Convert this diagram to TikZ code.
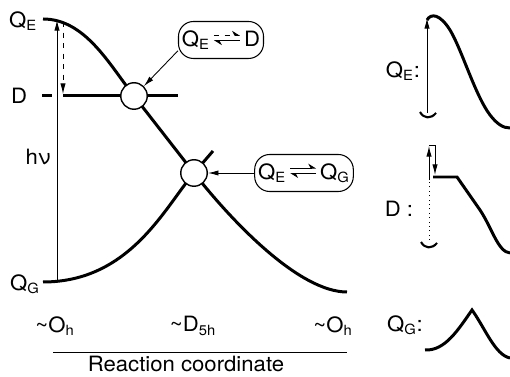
\documentclass[tikz,border=0pt]{standalone}
\usepackage{fontspec}
\setmainfont{TeX Gyre Heros}[FakeStretch=1.05]
\usepackage{tikz}
\usetikzlibrary{arrows.meta, calc}

\newcommand{\subs}[1]{\textsubscript{#1}}
\newcommand{\harp}[1]{\tikz[x=1cm, y=1cm, baseline=-0.75ex]{%
  \draw[line width=0.6pt, #1, -{Stealth[harpoon, length=4pt, width=5pt]}] (0,0.055) -- (0.52,0.055);
  \draw[line width=0.6pt, solid, -{Stealth[harpoon, length=4pt, width=5pt]}] (0.52,-0.055) -- (0,-0.055);}}

\begin{document}
\begin{tikzpicture}[x=0.02cm, y=-0.02cm,
    thickcurve/.style={line width=1.7pt},
    thinline/.style={line width=0.5pt},
    cupline/.style={line width=1.2pt},
    arrowhead/.style={-{Latex[length=6pt, width=3pt]}},
    xpoint/.style={circle, draw, line width=0.8pt, fill=white, minimum size=0.53cm, inner sep=0pt},
    statebox/.style={draw, line width=0.6pt, rounded corners=0.3cm, minimum height=0.74cm, inner sep=2pt,
                     font=\fontsize{12}{14}\selectfont},
    lbl/.style={font=\fontsize{12}{14}\selectfont, inner sep=0pt}]
      \useasboundingbox (0,0) rectangle (510,377);
      % ── potential curves ─────────────────────────────────────────────────────
      \draw[thickcurve] (43,19) .. controls (85,19) and (109,64) .. (134,96)
        -- (194,173) .. controls (234,224) and (300,292) .. (347,292);
      \draw[thickcurve] (43,282) .. controls (130,282) and (165,207) .. (194,173) -- (213,151);
      \draw[thickcurve] (63,96) -- (178,96);
      \draw[thickcurve] (42,96) -- (52,96);
      % ── excitation and relaxation ────────────────────────────────────────────
      \draw[thinline, arrowhead] (57,282) -- (57,20);
      \draw[thinline, dashed, arrowhead] (63,22) -- (63,94);
      % ── crossing points ──────────────────────────────────────────────────────
      \node[xpoint] (cD) at (134,96) {};
      \node[xpoint] (cG) at (194,173) {};
      % ── equilibrium tags ─────────────────────────────────────────────────────
      \node[statebox, minimum width=1.64cm] (tagD) at (221,40) {Q\subs{E}\,\harp{dashed}\,D};
      \node[statebox, minimum width=1.94cm] (tagG) at (304,173) {Q\subs{E}\,\harp{solid}\,Q\subs{G}};
      \draw[thinline, arrowhead] (tagD.194) -- (cD.45);
      \draw[thinline, arrowhead] (tagG.west) -- (cG.east);
      % ── state labels ─────────────────────────────────────────────────────────
      \node[lbl] (lQE) at (23,21) {Q\subs{E}};
      \node[lbl] (lD) at (19,96) {D};
      \node[lbl] (lhv) at (38,157) {hν};
      \node[lbl] (lQG) at (25,284) {Q\subs{G}};
      % ── reaction coordinate ──────────────────────────────────────────────────
      \node[lbl] (xOa) at (55,326) {\textasciitilde O\subs{h}};
      \node[lbl] (xD) at (193,326) {\textasciitilde D\subs{5h}};
      \node[lbl] (xOb) at (333,326) {\textasciitilde O\subs{h}};
      \draw[thinline] (53,352) -- (347,352);
      \node[lbl, anchor=base] (axis) at (186,372) {Reaction coordinate};
      % ── right: Q_E trace ─────────────────────────────────────────────────────
      \node[lbl] (pQE) at (403,71) {Q\subs{E}:};
      \draw[thinline, arrowhead] (427,113) -- (427,18);
      \draw[cupline] (420,112) .. controls (424,119) and (431,119) .. (436,113);
      \draw[thickcurve] (427,20) .. controls (431,13) and (440,14) .. (450,30)
        .. controls (462,50) and (475,95) .. (490,115)
        .. controls (497,124) and (503,128) .. (510,128);
      % ── right: D trace ───────────────────────────────────────────────────────
      \node[lbl] (pD) at (399,209) {D :};
      \draw[thinline, dotted] (429,240) -- (429,180);
      \draw[thinline, arrowhead] (429,180) -- (429,146);
      \draw[thinline, arrowhead] (429,145) -- (435,145) -- (435,175);
      \draw[cupline] (421,242) .. controls (425,249) and (432,249) .. (437,243);
      \draw[thickcurve] (433,177) -- (457,177) -- (480,210)
        .. controls (492,228) and (498,252) .. (510,253);
      % ── right: Q_G trace ─────────────────────────────────────────────────────
      \node[lbl] (pQG) at (405,325) {Q\subs{G}:};
      \draw[thickcurve] (425,350) .. controls (445,351) and (458,330) .. (472,310)
        .. controls (485,328) and (495,355) .. (510,358);
    \end{tikzpicture}
\end{document}
